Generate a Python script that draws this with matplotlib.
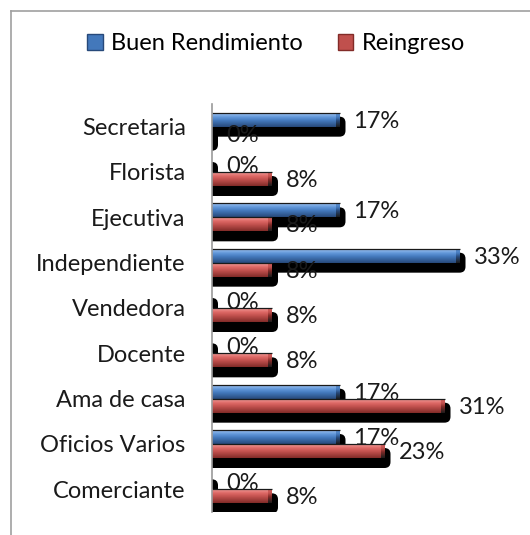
import numpy as np
import matplotlib
matplotlib.use("Agg")
import matplotlib.pyplot as plt
from matplotlib.patches import FancyBboxPatch, Patch
from matplotlib.colors import to_rgb
from matplotlib.lines import Line2D

plt.rcParams['font.family'] = ['Lato', 'DejaVu Sans']

# data (percent)
categorias = ['Secretaria', 'Florista', 'Ejecutiva', 'Independiente', 'Vendedora',
              'Docente', 'Ama de casa', 'Oficios Varios', 'Comerciante']
buen_rendimiento = [17, 0, 17, 33, 0, 0, 17, 17, 0]
reingreso = [0, 8, 8, 8, 8, 8, 31, 23, 8]
series = ['Buen Rendimiento', 'Reingreso']

# shading for the cylinder-like bars: light top, base middle, dark bottom
tonos = {
    'Buen Rendimiento': ['#9cc2f0', '#5f95d8', '#4378bb', '#27497a'],
    'Reingreso': ['#f29a97', '#dc6663', '#c0504d', '#822b28'],
}
FS = 17

W, H, DPI = 530, 535, 100
fig = plt.figure(figsize=(W / DPI, H / DPI), dpi=DPI)
ax = fig.add_axes([212 / W, (H - 512) / H, 270 / W, 408 / H])
XMAX = 36
ax.set_xlim(0, XMAX)
ax.set_ylim(-0.5, len(categorias) - 0.5)

px_x = XMAX / 270.0
px_y = len(categorias) / 408.0
bar_h = 14 * px_y


def gradient(cols, n=40):
    stops = [0.0, 0.3, 0.55, 1.0]
    rgb = np.array([to_rgb(c) for c in cols])
    t = np.linspace(0, 1, n)
    img = np.stack([np.interp(t, stops, rgb[:, k]) for k in range(3)], axis=1)
    return img[:, None, :]


def draw_series(vals, offset, cols, z):
    grad = gradient(cols)
    dark = gradient([cols[1], cols[2], cols[3], '#1c1c1c'])
    for i, v in enumerate(vals):
        yc = len(vals) - 1 - i + offset
        y0, y1 = yc - bar_h / 2, yc + bar_h / 2
        # black drop shadow with rounded corners
        r = 6 * px_x
        sx0 = -1.0
        sw = v + 6 * px_x - sx0
        sy0 = y0 - 10 * px_y
        sh = (y1 - 4 * px_y) - sy0
        shadow = FancyBboxPatch((sx0, sy0), sw, sh,
                                boxstyle=f"round,pad=0,rounding_size={r}",
                                mutation_aspect=px_y / px_x,
                                facecolor='black', edgecolor='none', zorder=z)
        ax.add_patch(shadow)
        if v <= 0:
            continue
        ax.imshow(grad, extent=[0, v, y0, y1], aspect='auto',
                  interpolation='bilinear', zorder=z + 0.1)
        cap = 4 * px_x
        ax.imshow(dark, extent=[v - cap, v, y0, y1], aspect='auto',
                  interpolation='bilinear', zorder=z + 0.2)
        ax.plot([0, v], [y1, y1], color='#1a1a1a', lw=0.9,
                solid_capstyle='butt', zorder=z + 0.3)


draw_series(buen_rendimiento, bar_h / 2, tonos['Buen Rendimiento'], 2)
draw_series(reingreso, -bar_h / 2, tonos['Reingreso'], 4)

# value labels
for vals, off in [(buen_rendimiento, bar_h / 2), (reingreso, -bar_h / 2)]:
    for i, v in enumerate(vals):
        yc = len(vals) - 1 - i + off
        ax.text(v + 14 * px_x, yc - 1.5 * px_y, f'{v}%', ha='left', va='center',
                fontsize=FS, color='#1a1a1a', zorder=10)

ax.set_xlim(0, XMAX)
ax.set_ylim(-0.5, len(categorias) - 0.5)
ax.set_yticks(range(len(categorias)))
ax.set_yticklabels(categorias[::-1], fontsize=FS, color='#1a1a1a')
ax.set_xticks([])
ax.tick_params(axis='y', length=0, pad=19)
for s in ['top', 'right', 'bottom']:
    ax.spines[s].set_visible(False)
ax.spines['left'].set_color('#9a9a9a')
ax.spines['left'].set_linewidth(1.2)
ax.spines['left'].set_zorder(11)

# legend
handles = [Patch(facecolor=tonos[s][2], edgecolor=tonos[s][3], label=s) for s in series]
fig.legend(handles=handles, loc='center', bbox_to_anchor=(276 / W, 1 - 44 / H),
           ncol=2, frameon=False, fontsize=FS, handlelength=0.65, handleheight=0.65,
           handletextpad=0.35, columnspacing=1.5)

# chart area border (top and left edges)
fig.add_artist(Line2D([10.5 / W, 10.5 / W], [0, 1 - 11 / H], color='#a0a0a0',
                      lw=1.2, transform=fig.transFigure))
fig.add_artist(Line2D([10.5 / W, 1], [1 - 11 / H, 1 - 11 / H], color='#a0a0a0',
                      lw=1.2, transform=fig.transFigure))

fig.savefig('out.png', dpi=DPI, facecolor='white')
